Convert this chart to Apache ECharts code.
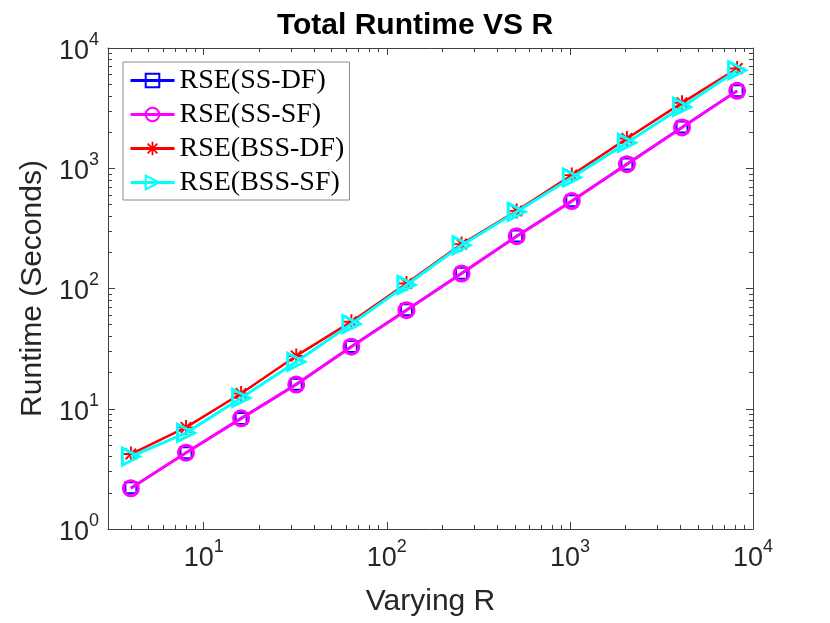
<!DOCTYPE html>
<html>
<head>
<meta charset="utf-8">
<script src="https://cdn.jsdelivr.net/npm/echarts@6/dist/echarts.min.js"></script>
<style>html,body{margin:0;padding:0;background:#fff;}#c{width:830px;height:623px;}</style>
</head>
<body>
<div id="c"></div>
<script>
// ---- data ----
const R = [4, 8, 16, 32, 64, 128, 256, 512, 1024, 2048, 4096, 8192];
const rseSSDF  = [2.2, 4.3, 8.3, 16.0, 33.0, 66.5, 134, 273, 536, 1085, 2200, 4420];
const rseSSSF  = [2.18, 4.31, 8.32, 15.9, 32.8, 66.0, 133, 272, 533, 1082, 2183, 4400];
const rseBSSDF = [4.2, 7.0, 13.4, 27.5, 53.0, 110, 234, 442, 877, 1770, 3500, 6750];
const rseBSSSF = [4.0, 6.3, 12.3, 24.6, 50.6, 107, 229, 434, 838, 1626, 3236, 6530];
const seriesNames = ['RSE(SS-DF)', 'RSE(SS-SF)', 'RSE(BSS-DF)', 'RSE(BSS-SF)'];
const xMajor = [10, 100, 1000, 10000];
const yMajor = [1, 10, 100, 1000, 10000];

function minorList(lo, hi) {
  const out = [];
  for (let d = 1; d < hi; d *= 10) {
    for (let k = 2; k <= 9; k++) { const v = k * d; if (v > lo && v < hi) out.push(v); }
  }
  return out;
}
const xMinor = minorList(3, 10000);
const yMinor = minorList(1, 10000);

const AX = '#404040';
const TXT = '#262626';
const FONT = 'Liberation Sans';

function pow10Label(v) {
  const e = Math.round(Math.log10(v));
  return '{a|10}{b|' + e + '}';
}
const richLbl = {
  a: { fontSize: 27, fontFamily: FONT, color: TXT, lineHeight: 34, verticalAlign: 'bottom' },
  b: { fontSize: 18, fontFamily: FONT, color: TXT, lineHeight: 18, verticalAlign: 'top' }
};

function mkAxis(kind, pos, major, minorVals, isMain, isMinor) {
  const ax = {
    type: 'log', logBase: 10,
    min: kind === 'x' ? 3 : 1, max: 10000,
    position: pos,
    axisLine: { show: !isMinor, lineStyle: { color: AX, width: 1 } },
    axisTick: { show: true, inside: true, length: isMinor ? 4 : 7,
      customValues: isMinor ? minorVals : major, lineStyle: { color: AX, width: 1 } },
    splitLine: { show: false },
    minorTick: { show: false },
    axisLabel: { show: false }
  };
  if (isMain) {
    ax.axisLabel = { show: true, customValues: major, formatter: pow10Label, rich: richLbl, margin: 9 };
    if (kind === 'x') {
      ax.name = 'Varying R'; ax.nameLocation = 'middle'; ax.nameGap = 58;
    } else {
      ax.name = 'Runtime (Seconds)'; ax.nameLocation = 'middle'; ax.nameGap = 58;
    }
    ax.nameTextStyle = { fontSize: 30, fontFamily: FONT, color: TXT };
  }
  return ax;
}

const hollow = 'rgba(0,0,0,0)';
const asterisk = 'path://M8.7,0L11.3,0L11.3,20L8.7,20ZM0,8.7L20,8.7L20,11.3L0,11.3ZM3.84,2.0L18.0,16.16L16.16,18.0L2.0,3.84ZM16.16,2.0L18.0,3.84L3.84,18.0L2.0,16.16Z';
const triRight = 'path://M0,0L20,10L0,20Z';

const colors = ['#0000ff', '#ff00ff', '#ff0000', '#00ffff'];
const lineW = [2.2, 3, 2.5, 3];

function pairs(ys) { return R.map((x, i) => [x, ys[i]]); }

const option = {
  animation: false,
  backgroundColor: '#fff',
  title: { text: 'Total Runtime VS R', left: 'center', top: 6,
    textStyle: { fontSize: 30, fontWeight: 'bold', fontFamily: FONT, color: '#000' } },
  grid: { left: 108, right: 77, top: 48, bottom: 94 },
  legend: {
    orient: 'vertical', left: 123, top: 62,
    data: seriesNames,
    itemWidth: 44, itemHeight: 17, itemGap: 5,
    padding: [4, 5, 3, 6],
    lineStyle: { width: 3 },
    borderColor: '#8c8c8c', borderWidth: 1, backgroundColor: '#fff',
    textStyle: { fontFamily: 'Liberation Serif', fontSize: 28, color: '#000', lineHeight: 29 }
  },
  xAxis: [
    mkAxis('x', 'bottom', xMajor, xMinor, true, false),
    mkAxis('x', 'bottom', xMajor, xMinor, false, true),
    mkAxis('x', 'top', xMajor, xMinor, false, false),
    mkAxis('x', 'top', xMajor, xMinor, false, true)
  ],
  yAxis: [
    mkAxis('y', 'left', yMajor, yMinor, true, false),
    mkAxis('y', 'left', yMajor, yMinor, false, true),
    mkAxis('y', 'right', yMajor, yMinor, false, false),
    mkAxis('y', 'right', yMajor, yMinor, false, true)
  ],
  series: [
    { name: seriesNames[0], type: 'line', data: pairs(rseSSDF), symbol: 'rect', symbolSize: 11,
      lineStyle: { color: colors[0], width: lineW[0] },
      itemStyle: { color: hollow, borderColor: colors[0], borderWidth: 2 }, z: 2 },
    { name: seriesNames[1], type: 'line', data: pairs(rseSSSF), symbol: 'circle', symbolSize: 15,
      lineStyle: { color: colors[1], width: lineW[1] },
      itemStyle: { color: hollow, borderColor: colors[1], borderWidth: 3 }, z: 3 },
    { name: seriesNames[2], type: 'line', data: pairs(rseBSSDF), symbol: asterisk, symbolSize: 15,
      lineStyle: { color: colors[2], width: lineW[2] },
      itemStyle: { color: colors[2], borderWidth: 0 }, z: 4 },
    { name: seriesNames[3], type: 'line', data: pairs(rseBSSSF), symbol: triRight, symbolSize: 17,
      lineStyle: { color: colors[3], width: lineW[3] },
      itemStyle: { color: hollow, borderColor: colors[3], borderWidth: 3 }, z: 5 }
  ]
};

const chart = echarts.init(document.getElementById('c'), null, { renderer: 'canvas' });
chart.setOption(option);
</script>
</body>
</html>
